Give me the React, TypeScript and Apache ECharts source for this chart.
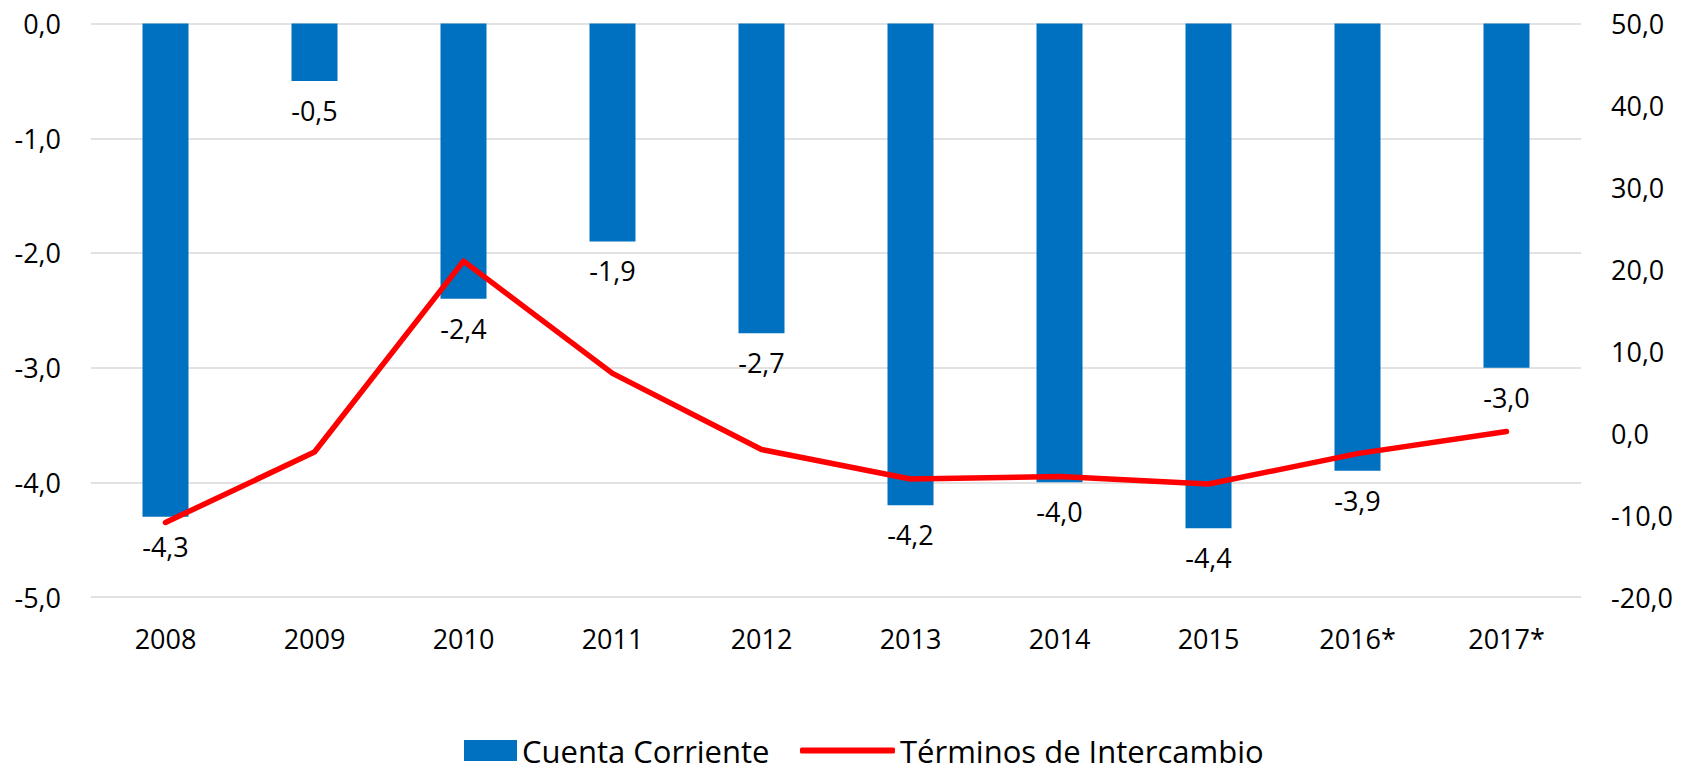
import React, { useEffect, useRef } from "react";
import * as echarts from "echarts";

const categories = ["2008", "2009", "2010", "2011", "2012", "2013", "2014", "2015", "2016*", "2017*"];
const cuentaCorriente = [-4.3, -0.5, -2.4, -1.9, -2.7, -4.2, -4.0, -4.4, -3.9, -3.0];
const terminosIntercambio = [-10.9, -2.3, 21.0, 7.3, -2.0, -5.6, -5.3, -6.2, -2.5, 0.2];
const seriesNames = ["Cuenta Corriente", "Términos de Intercambio"];

const FONT = "'Open Sans', 'Noto Sans', sans-serif";
const fmt = (v: number) => v.toFixed(1).replace(".", ",");

export default function App() {
  const ref = useRef<HTMLDivElement>(null);
  useEffect(() => {
    if (!ref.current) return;
    const chart = echarts.init(ref.current, undefined, { renderer: "svg" });
    chart.setOption({
      animation: false,
      backgroundColor: "#ffffff",
      textStyle: { fontFamily: FONT, color: "#000" },
      grid: { left: 91, right: 100, top: 23.6, bottom: 175, containLabel: false },
      legend: [
        {
          data: [seriesNames[0]],
          left: 459,
          top: 730,
          itemWidth: 53,
          itemHeight: 21,
          itemGap: 0,
          icon: "rect",
          textStyle: { fontFamily: FONT, fontSize: 31, color: "#000" },
        },
        {
          data: [{ name: seriesNames[1], icon: "roundRect" }],
          left: 795,
          top: 730,
          itemWidth: 95,
          itemHeight: 6,
          itemGap: 0,
          itemStyle: { color: "#FF0000", borderWidth: 0 },
          textStyle: { fontFamily: FONT, fontSize: 31, color: "#000" },
        },
      ],
      xAxis: {
        type: "category",
        data: categories,
        position: "bottom",
        axisLine: { show: false },
        axisTick: { show: false },
        axisLabel: { fontFamily: FONT, fontSize: 27, color: "#000", margin: 28 },
      },
      yAxis: [
        {
          type: "value",
          min: -5,
          max: 0,
          interval: 1,
          axisLine: { show: false },
          axisTick: { show: false },
          splitLine: { show: true, lineStyle: { color: "#d9d9d9", width: 1.5 } },
          axisLabel: { fontFamily: FONT, fontSize: 27, color: "#000", margin: 30, formatter: fmt },
        },
        {
          type: "value",
          min: -20,
          max: 50,
          interval: 10,
          position: "right",
          axisLine: { show: false },
          axisTick: { show: false },
          splitLine: { show: false },
          axisLabel: { fontFamily: FONT, fontSize: 27, color: "#000", margin: 30, formatter: fmt },
        },
      ],
      series: [
        {
          name: seriesNames[0],
          type: "bar",
          data: cuentaCorriente,
          yAxisIndex: 0,
          barWidth: 46,
          itemStyle: { color: "#0070C0" },
          label: {
            show: true,
            position: "bottom",
            distance: 16,
            fontFamily: FONT,
            fontSize: 27,
            color: "#000",
            formatter: (p: any) => fmt(p.value),
          },
        },
        {
          name: seriesNames[1],
          type: "line",
          data: terminosIntercambio,
          yAxisIndex: 1,
          symbol: "none",
          showSymbol: false,
          lineStyle: { color: "#FF0000", width: 5.5, cap: "round", join: "round" },
          itemStyle: { color: "#FF0000" },
        },
      ],
    });
    return () => chart.dispose();
  }, []);
  return (
    <div
      ref={ref}
      style={{ position: "fixed", left: 0, top: 0, width: 1681, height: 772, background: "#fff" }}
    />
  );
}
